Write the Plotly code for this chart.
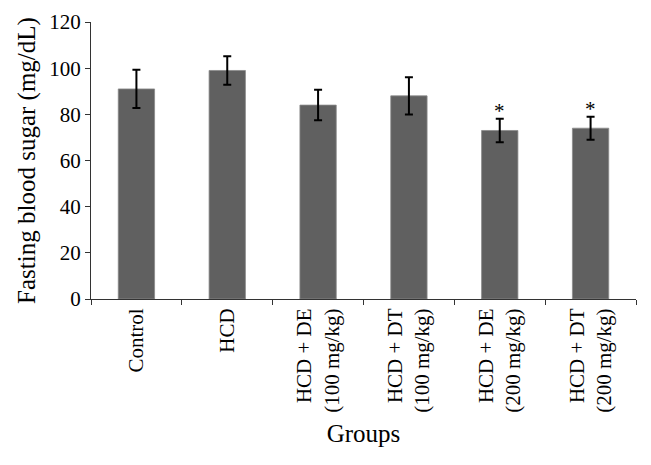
import plotly.graph_objects as go

# 各组名称（横轴标签）
groups = ['Control', 'HCD', 'HCD + DE<br>(100 mg/kg)', 'HCD + DT<br>(100 mg/kg)',
          'HCD + DE<br>(200 mg/kg)', 'HCD + DT<br>(200 mg/kg)']
# 空腹血糖均值和误差
fbs_mean = [91, 99, 84, 88, 73, 74]
fbs_err = [8.3, 6.2, 6.6, 8.1, 5.1, 5.0]
# 显著性标记
signif = ['', '', '', '', '*', '*']

font_name = 'Liberation Serif'

fig = go.Figure()
fig.add_trace(go.Bar(
    x=groups, y=fbs_mean,
    marker=dict(color='#606060', line=dict(color='#8a8a8a', width=0.8)),
    error_y=dict(type='data', array=fbs_err, color='black', thickness=2, width=4),
))

# 星号放在误差线上方
for g, m, e, s in zip(groups, fbs_mean, fbs_err, signif):
    if s:
        fig.add_annotation(x=g, y=m + e, text=s, showarrow=False,
                           yanchor='middle', yshift=8,
                           font=dict(family=font_name, size=21, color='black'))

# 页面body默认有8px边距，所以图整体缩小8px
fig.update_layout(
    width=643, height=457,
    margin=dict(l=83, r=15, t=14, b=166),
    plot_bgcolor='white', paper_bgcolor='white',
    showlegend=False, bargap=0.6,
    font=dict(family=font_name, size=21, color='black'),
)
fig.update_xaxes(
    title=dict(text='Groups', standoff=12),
    tickangle=-90, showline=True, linecolor='#333333', linewidth=1,
    ticks='outside', tickson='boundaries', ticklen=5, tickcolor='#333333',
    showgrid=False, automargin=False,
)
fig.update_yaxes(
    title=dict(text='Fasting blood sugar (mg/dL)', standoff=6),
    range=[0, 120], dtick=20, showline=True, linecolor='#333333', linewidth=1,
    ticks='outside', ticklen=5, tickcolor='#333333',
    showgrid=False, zeroline=False, automargin=False,
)

fig.write_html('out.html')
